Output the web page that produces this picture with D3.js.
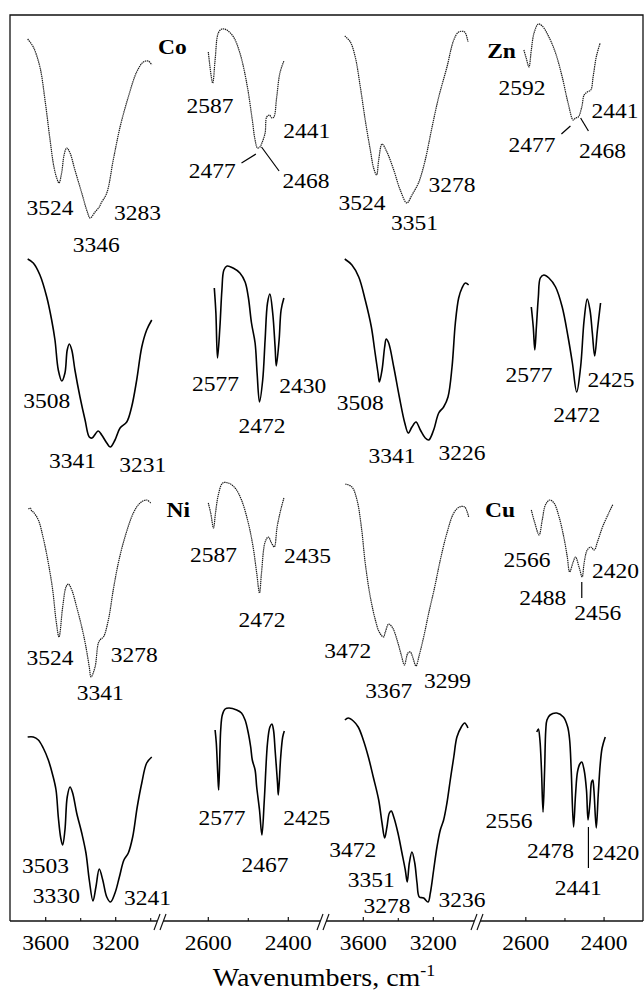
<!DOCTYPE html>
<html>
<head>
<meta charset="utf-8">
<script src="https://cdn.jsdelivr.net/npm/d3@7"></script>
<style>
  body { margin: 0; background: #fff; }
  text { font-family: "Liberation Serif", "Times New Roman", serif; fill: #000; }
</style>
</head>
<body>
<svg id="chart" width="644" height="994"></svg>
<script>
// IR spectra, [wavenumber, transmittance (arb. units)]
// NH region = 3800-2960 cm-1, BH region = 2700-2300 cm-1
const co1NH = [[3703,191],[3671,183],[3633,163],[3604,130],[3575,90],[3553,63],[3537,52],[3524,47],[3509,57],[3495,75],[3480,82],[3461,77],[3433,60],[3394,37],[3362,18],[3346,12],[3318,18],[3294,23],[3283,27],[3251,37],[3214,70],[3175,103],[3128,133],[3080,158],[3042,168],[3014,169],[2994,165]];
const co1BH = [[2600,178],[2589,147],[2583,170],[2575,197],[2566,201],[2554,200],[2537,193],[2521,177],[2504,147],[2491,113],[2483,90],[2477,82],[2471,83],[2466,87],[2458,97],[2454,113],[2447,115],[2441,112],[2436,113],[2429,133],[2421,157],[2411,169]];
const zn1NH = [[3706,194],[3674,188],[3646,173],[3617,143],[3589,110],[3560,80],[3541,62],[3524,55],[3512,70],[3493,86],[3465,78],[3426,60],[3389,40],[3351,27],[3322,35],[3290,45],[3278,50],[3246,70],[3207,103],[3169,133],[3122,163],[3083,190],[3055,198],[3021,198],[3002,188]];
const zn1BH = [[2605,180],[2599,172],[2592,163],[2586,180],[2579,197],[2568,206],[2558,204],[2541,193],[2524,177],[2507,153],[2492,127],[2479,110],[2473,112],[2466,113],[2457,123],[2451,135],[2443,138],[2434,140],[2428,153],[2420,173],[2410,187]];

const co2NH = [[3703,201],[3671,197],[3633,185],[3594,163],[3566,140],[3547,120],[3528,90],[3508,79],[3490,87],[3477,110],[3465,116],[3451,110],[3433,90],[3404,63],[3375,40],[3351,23],[3335,22],[3300,29],[3280,25],[3251,17],[3231,13],[3204,20],[3175,32],[3137,38],[3109,53],[3080,80],[3051,113],[3023,130],[2994,140]];
const co2BH = [[2585,172],[2581,147],[2577,102],[2571,133],[2566,170],[2561,190],[2553,194],[2538,192],[2521,187],[2508,178],[2500,163],[2492,137],[2483,117],[2478,87],[2472,58],[2464,80],[2458,120],[2452,157],[2446,166],[2439,147],[2433,113],[2430,94],[2423,120],[2418,150],[2411,162]];
const zn2NH = [[3706,201],[3665,195],[3626,183],[3589,160],[3554,133],[3535,110],[3516,87],[3508,78],[3493,90],[3478,113],[3469,121],[3455,117],[3426,93],[3394,63],[3363,37],[3343,27],[3322,33],[3299,38],[3274,30],[3246,22],[3226,20],[3198,30],[3169,47],[3141,53],[3116,63],[3093,93],[3074,137],[3055,162],[3036,172],[3017,177],[2998,175]];
const zn2BH = [[2586,153],[2581,133],[2577,110],[2573,133],[2568,163],[2563,182],[2554,185],[2541,182],[2524,173],[2507,153],[2492,123],[2481,97],[2470,68],[2460,93],[2451,140],[2443,161],[2436,150],[2430,127],[2424,104],[2417,130],[2409,157]];

const ni1NH = [[3699,181],[3688,182],[3680,179],[3671,178],[3642,170],[3614,152],[3585,127],[3560,100],[3541,70],[3524,53],[3503,83],[3484,103],[3471,106],[3451,100],[3423,83],[3394,63],[3370,43],[3351,23],[3341,13],[3318,23],[3299,47],[3285,51],[3270,53],[3242,70],[3214,100],[3185,127],[3147,153],[3099,177],[3061,187],[3023,190],[3000,187]];
const ni1BH = [[2600,187],[2594,177],[2587,162],[2582,177],[2575,195],[2564,207],[2550,207],[2533,202],[2517,190],[2500,167],[2488,143],[2479,117],[2472,97],[2467,117],[2458,148],[2450,153],[2442,147],[2435,143],[2428,163],[2419,180],[2411,192]];
const cu1NH = [[3703,206],[3665,203],[3636,190],[3611,163],[3589,127],[3560,93],[3531,70],[3509,58],[3485,53],[3474,58],[3455,66],[3432,62],[3407,50],[3383,35],[3365,25],[3345,37],[3331,38],[3318,33],[3299,24],[3280,35],[3255,53],[3226,77],[3192,103],[3160,130],[3122,157],[3083,177],[3051,183],[3021,183],[2998,173]];
const cu1BH = [[2586,180],[2577,167],[2566,155],[2558,170],[2550,185],[2539,190],[2528,187],[2515,173],[2503,153],[2494,133],[2488,118],[2479,128],[2473,133],[2464,123],[2456,113],[2451,127],[2443,140],[2434,143],[2425,140],[2417,148],[2404,163],[2388,177],[2377,186]];

const ni2NH = [[3703,183],[3671,183],[3642,180],[3614,172],[3585,160],[3560,145],[3541,130],[3528,103],[3514,82],[3503,75],[3490,90],[3477,123],[3461,133],[3446,127],[3423,107],[3394,87],[3370,67],[3351,40],[3330,19],[3313,33],[3294,51],[3274,40],[3251,23],[3230,18],[3204,27],[3179,43],[3153,60],[3128,67],[3103,83],[3077,113],[3051,137],[3023,157],[2994,163]];
const ni2BH = [[2583,190],[2580,177],[2576,143],[2574,130],[2569,190],[2565,205],[2558,211],[2548,212],[2529,210],[2517,207],[2508,200],[2500,187],[2494,173],[2490,160],[2483,150],[2479,133],[2472,110],[2466,85],[2460,120],[2452,177],[2446,193],[2441,196],[2437,190],[2433,170],[2427,137],[2425,125],[2419,163],[2414,183],[2410,189]];
const cu2NH = [[3705,200],[3686,202],[3657,199],[3629,193],[3600,180],[3571,163],[3543,143],[3512,120],[3493,97],[3478,82],[3465,93],[3451,107],[3440,109],[3426,103],[3402,87],[3379,67],[3360,50],[3349,38],[3337,57],[3322,68],[3306,57],[3293,37],[3280,23],[3255,22],[3230,18],[3217,27],[3198,50],[3179,73],[3160,90],[3141,100],[3122,117],[3103,140],[3083,163],[3065,183],[3040,193],[3021,197],[3002,192]];
const cu2BH = [[2572,188],[2568,191],[2564,180],[2560,150],[2556,108],[2552,150],[2549,190],[2546,200],[2538,205],[2521,207],[2504,203],[2493,193],[2488,180],[2484,150],[2478,93],[2473,125],[2468,148],[2462,156],[2457,158],[2451,150],[2445,130],[2441,100],[2436,118],[2432,138],[2429,140],[2426,130],[2420,92],[2415,125],[2410,155],[2405,172],[2397,183]];

// which panel each spectrum goes in: [data, segment, row, dotted]
const spectra = [
  [co1NH,0,0,true],[co1BH,1,0,true],[zn1NH,2,0,true],[zn1BH,3,0,true],
  [co2NH,0,1,false],[co2BH,1,1,false],[zn2NH,2,1,false],[zn2BH,3,1,false],
  [ni1NH,0,2,true],[ni1BH,1,2,true],[cu1NH,2,2,true],[cu1BH,3,2,true],
  [ni2NH,0,3,false],[ni2BH,1,3,false],[cu2NH,2,3,false],[cu2BH,3,3,false]
];

// peak labels: [segment, row, text, wavenumber, value]
const peakLabels = [
  [0,0,"3524",3575,15],[0,0,"3346",3311,-22],[0,0,"3283",3076,10],
  [1,0,"2587",2596,117],[1,0,"2441",2354,92],[1,0,"2477",2590,52],[1,0,"2468",2356,42],
  [2,0,"3524",3607,20],[2,0,"3351",3307,0],[2,0,"3278",3093,38],
  [3,0,"2592",2610,135],[3,0,"2441",2372,112],[3,0,"2477",2584,78],[3,0,"2468",2404,72],
  [0,1,"3508",3594,52],[0,1,"3341",3447,-8],[0,1,"3231",3045,-12],
  [1,1,"2577",2582,69],[1,1,"2472",2466,27],[1,1,"2430",2364,67],
  [2,1,"3508",3617,50],[2,1,"3341",3436,-3],[2,1,"3226",3036,0],
  [3,1,"2577",2592,78],[3,1,"2472",2470,38],[3,1,"2425",2382,73],
  [0,2,"3524",3575,25],[0,2,"3341",3288,-10],[0,2,"3278",3094,28],
  [1,2,"2587",2587,128],[1,2,"2472",2466,63],[1,2,"2435",2352,127],
  [2,2,"3472",3689,32],[2,2,"3367",3455,-8],[2,2,"3299",3119,2],
  [3,2,"2566",2597,123],[3,2,"2488",2557,85],[3,2,"2456",2416,70],[3,2,"2420",2371,112],
  [0,3,"3503",3601,47],[0,3,"3330",3539,17],[0,3,"3241",3018,15],
  [1,3,"2577",2566,95],[1,3,"2467",2458,48],[1,3,"2425",2354,95],
  [2,3,"3472",3660,63],[2,3,"3351",3555,33],[2,3,"3278",3465,7],[2,3,"3236",3036,13],
  [3,3,"2556",2643,92],[3,3,"2478",2537,62],[3,3,"2441",2466,25],[3,3,"2420",2370,60]
];

// metal labels: [segment, row, text, wavenumber, value]
const metalLabels = [
  [1,0,"Co",2690,176],[3,0,"Zn",2662,172],[1,2,"Ni",2675,173],[3,2,"Cu",2666,173]
];

// leader lines: [segment, row, wn1, v1, wn2, v2]
const leaderLines = [
  [1,0,2517,67,2481,76],[1,0,2467,83,2423,59],
  [3,0,2509,96,2486,104],[3,0,2460,112,2440,99],
  [3,2,2457,108,2457,92],
  [3,3,2440,93,2440,52]
];

const majorTicks = [[3600,3200],[2600,2400],[3600,3200],[2600,2400]];
const minorTicks = [[3400,3000],[2500],[3400],[2500]];

const svg = d3.select("#chart");
const STRETCH = 1.12; // the printed type is a little wider than Times

// four broken x segments
const xSeg = [
  d3.scaleLinear().domain([3800, 2960]).range([10.7, 157.7]),
  d3.scaleLinear().domain([2700, 2320]).range([168.3, 320.3]),
  d3.scaleLinear().domain([3800, 2980]).range([328.3, 471.8]),
  d3.scaleLinear().domain([2700, 2300]).range([486.7, 643.2])
];
// four stacked rows, top to bottom
const yRow = [0,1,2,3].map(r => d3.scaleLinear().domain([0, 230]).range([230 + r*230, r*230]));

const axisY = 921, frameTop = 15, frameL = 10, frameR = 643;
const axisParts = [[frameL,157],[163,320],[326,474],[480,frameR]];

function label(x, y, str, size, bold) {
  return svg.append("g")
    .attr("transform", `translate(${x},${y}) scale(${STRETCH},1)`)
    .append("text")
    .attr("text-anchor","middle")
    .attr("font-size", size)
    .attr("font-weight", bold ? "bold" : null)
    .text(str);
}

// frame
svg.append("path")
  .attr("d", `M${frameL},${axisY}V${frameTop}H${frameR}V${axisY}`)
  .attr("fill","none").attr("stroke","#111").attr("stroke-width",1.3);

// spectra
const line = d3.line().curve(d3.curveCatmullRom.alpha(0.5));
spectra.forEach(([data, seg, row, dotted]) => {
  const x = xSeg[seg], y = yRow[row];
  svg.append("path")
    .attr("d", line.x(d => x(d[0])).y(d => y(d[1]))(data))
    .attr("fill","none")
    .attr("stroke", dotted ? "#1a1a1a" : "#000")
    .attr("stroke-width", dotted ? 1.2 : 1.6)
    .attr("stroke-dasharray", dotted ? "1.4,0.7" : null)
    .attr("stroke-linejoin","round");
});

// leader lines
svg.selectAll("line.leader").data(leaderLines).join("line")
  .attr("class","leader")
  .attr("x1", d => xSeg[d[0]](d[2])).attr("y1", d => yRow[d[1]](d[3]))
  .attr("x2", d => xSeg[d[0]](d[4])).attr("y2", d => yRow[d[1]](d[5]))
  .attr("stroke","#000").attr("stroke-width",1.2);

// peak + metal labels
peakLabels.forEach(d => label(xSeg[d[0]](d[3]), yRow[d[1]](d[4]), d[2], 21, false));
metalLabels.forEach(d => label(xSeg[d[0]](d[3]), yRow[d[1]](d[4]), d[2], 21, true));

// broken x axis
axisParts.forEach(([a, b]) => {
  svg.append("line").attr("x1",a).attr("x2",b).attr("y1",axisY).attr("y2",axisY)
    .attr("stroke","#111").attr("stroke-width",1.3);
});
[157,163,320,326,474,480].forEach(cx => {
  svg.append("line")
    .attr("x1",cx-3).attr("y1",axisY+9).attr("x2",cx+3).attr("y2",axisY-7)
    .attr("stroke","#111").attr("stroke-width",1.2);
});

xSeg.forEach((x, i) => {
  majorTicks[i].forEach(t => {
    svg.append("line").attr("x1",x(t)).attr("x2",x(t)).attr("y1",axisY).attr("y2",axisY-4)
      .attr("stroke","#111").attr("stroke-width",1.2);
    label(x(t), 950, t, 21, false);
  });
  minorTicks[i].forEach(t => {
    svg.append("line").attr("x1",x(t)).attr("x2",x(t)).attr("y1",axisY).attr("y2",axisY-3)
      .attr("stroke","#111").attr("stroke-width",1.1);
  });
});

// axis title
const title = label(324, 986, "Wavenumbers, cm", 25, false);
title.append("tspan").attr("dy",-10).attr("font-size",16).text("-1");
</script>
</body>
</html>
